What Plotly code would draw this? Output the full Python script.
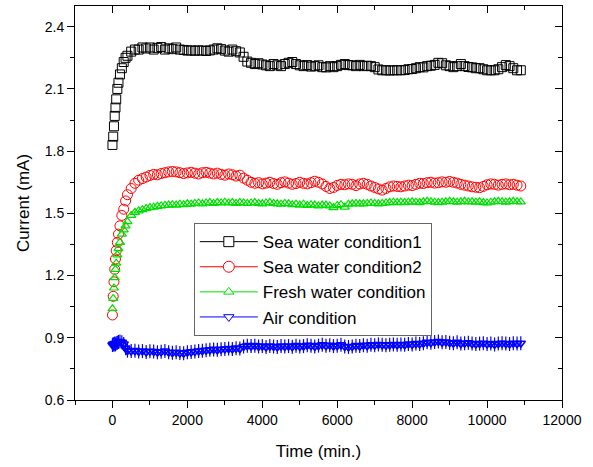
import plotly.graph_objects as go

# Sampling times (min): dense during start-up, then every 100 min
time_start = [0, 20, 40, 60, 80, 100, 130, 160, 200, 250, 300, 350, 400, 500, 600]
time_run = list(range(700, 11000, 100))
time_min = time_start + time_run

# Current (mA) for each test condition
sea_water_1 = [
    1.83, 1.87, 1.92, 1.97, 2.01, 2.05, 2.10, 2.13, 2.17, 2.20, 2.23, 2.25, 2.26, 2.28, 2.29,
    2.290, 2.300, 2.295, 2.300, 2.290, 2.298, 2.302, 2.290, 2.296, 2.292,
    2.300, 2.290, 2.288, 2.285, 2.286, 2.284, 2.286, 2.285, 2.283, 2.286,
    2.290, 2.296, 2.292, 2.285, 2.280, 2.290, 2.282, 2.276, 2.255, 2.232,
    2.226, 2.220, 2.224, 2.218, 2.214, 2.210, 2.220, 2.214, 2.210, 2.220,
    2.226, 2.230, 2.220, 2.214, 2.210, 2.215, 2.208, 2.210, 2.214, 2.205,
    2.204, 2.210, 2.205, 2.210, 2.216, 2.220, 2.215, 2.214, 2.210, 2.216,
    2.210, 2.212, 2.210, 2.205, 2.194, 2.190, 2.190, 2.189, 2.190, 2.190,
    2.190, 2.191, 2.195, 2.196, 2.200, 2.205, 2.204, 2.210, 2.212, 2.216,
    2.226, 2.224, 2.214, 2.210, 2.205, 2.210, 2.220, 2.210, 2.206, 2.204,
    2.200, 2.200, 2.195, 2.190, 2.190, 2.190, 2.195, 2.205, 2.215, 2.210,
    2.200, 2.190, 2.190,
]
sea_water_2 = [
    1.01, 1.10, 1.17, 1.23, 1.28, 1.32, 1.36, 1.40, 1.44, 1.49, 1.52, 1.56, 1.59, 1.62, 1.645,
    1.660, 1.668, 1.675, 1.683, 1.688, 1.686, 1.692, 1.696, 1.700, 1.702,
    1.700, 1.696, 1.692, 1.695, 1.698, 1.694, 1.690, 1.696, 1.698, 1.694,
    1.690, 1.694, 1.688, 1.684, 1.690, 1.686, 1.680, 1.684, 1.670, 1.660,
    1.650, 1.645, 1.648, 1.642, 1.646, 1.650, 1.644, 1.640, 1.648, 1.652,
    1.646, 1.640, 1.644, 1.650, 1.645, 1.642, 1.648, 1.655, 1.650, 1.642,
    1.630, 1.620, 1.625, 1.635, 1.640, 1.638, 1.642, 1.640, 1.634, 1.642,
    1.645, 1.640, 1.632, 1.625, 1.618, 1.612, 1.620, 1.628, 1.632, 1.630,
    1.628, 1.632, 1.636, 1.634, 1.640, 1.645, 1.644, 1.648, 1.650, 1.646,
    1.648, 1.652, 1.650, 1.654, 1.650, 1.646, 1.640, 1.636, 1.632, 1.628,
    1.626, 1.624, 1.630, 1.638, 1.642, 1.640, 1.636, 1.640, 1.642, 1.638,
    1.640, 1.636, 1.632,
]
fresh_water = [
    1.04, 1.09, 1.14, 1.19, 1.23, 1.26, 1.30, 1.33, 1.36, 1.40, 1.42, 1.44, 1.46, 1.49, 1.505,
    1.512, 1.518, 1.524, 1.528, 1.530, 1.534, 1.536, 1.538, 1.540, 1.542,
    1.540, 1.544, 1.542, 1.546, 1.544, 1.548, 1.550, 1.546, 1.550, 1.552,
    1.548, 1.552, 1.550, 1.554, 1.550, 1.552, 1.548, 1.552, 1.550, 1.548,
    1.550, 1.552, 1.548, 1.546, 1.550, 1.552, 1.548, 1.546, 1.544, 1.548,
    1.546, 1.542, 1.544, 1.540, 1.544, 1.538, 1.542, 1.540, 1.536, 1.540,
    1.540, 1.536, 1.528, 1.538, 1.542, 1.530, 1.544, 1.546, 1.548, 1.546,
    1.546, 1.548, 1.550, 1.548, 1.546, 1.548, 1.550, 1.552, 1.554, 1.552,
    1.554, 1.552, 1.554, 1.556, 1.554, 1.552, 1.556, 1.558, 1.556, 1.554,
    1.552, 1.554, 1.556, 1.558, 1.556, 1.554, 1.556, 1.558, 1.555, 1.556,
    1.554, 1.556, 1.552, 1.550, 1.554, 1.556, 1.558, 1.556, 1.554, 1.556,
    1.558, 1.556, 1.555,
]
air = [
    0.865, 0.870, 0.866, 0.872, 0.868, 0.874, 0.876, 0.880, 0.882, 0.878, 0.870, 0.850, 0.838, 0.836, 0.838,
    0.834, 0.836, 0.832, 0.835, 0.834, 0.830, 0.833, 0.836, 0.830, 0.828,
    0.830, 0.827, 0.826, 0.830, 0.832, 0.834, 0.836, 0.838, 0.840, 0.842,
    0.844, 0.842, 0.845, 0.846, 0.848, 0.846, 0.850, 0.848, 0.858, 0.862,
    0.860, 0.862, 0.858, 0.860, 0.856, 0.860, 0.858, 0.856, 0.860, 0.858,
    0.860, 0.857, 0.862, 0.858, 0.860, 0.864, 0.862, 0.858, 0.862, 0.866,
    0.862, 0.864, 0.860, 0.862, 0.866, 0.858, 0.856, 0.858, 0.862, 0.860,
    0.864, 0.862, 0.866, 0.864, 0.868, 0.866, 0.864, 0.866, 0.868, 0.866,
    0.868, 0.866, 0.870, 0.868, 0.872, 0.870, 0.874, 0.878, 0.876, 0.880,
    0.882, 0.878, 0.880, 0.876, 0.874, 0.878, 0.872, 0.874, 0.876, 0.872,
    0.870, 0.872, 0.874, 0.870, 0.872, 0.868, 0.872, 0.874, 0.872, 0.870,
    0.874, 0.872, 0.874,
]

# name, values, colour, data symbol, legend symbol, marker size, stroke width
series = [
    ("Sea water condition1", sea_water_1, "#000000", "square-open", "square", 9, 1),
    ("Sea water condition2", sea_water_2, "#ff0000", "circle-open", "circle", 10, 1),
    ("Fresh water condition", fresh_water, "#00e000", "triangle-up-open", "triangle-up", 8, 1.2),
    ("Air condition", air, "#0000ff", "triangle-down-open", "triangle-down", 8, 1.6),
]

FONT = "Liberation Sans, Arial, sans-serif"
fig = go.Figure()

for name, values, color, symbol, _, size, lw in series:
    fig.add_trace(go.Scatter(
        x=time_min, y=values, mode="markers", showlegend=False,
        marker=dict(symbol=symbol, size=size, color=color,
                    line=dict(color=color, width=lw)),
    ))
    if name == "Air condition":
        # vertical stroke through each down-triangle
        fig.add_trace(go.Scatter(
            x=time_min, y=values, mode="markers", showlegend=False,
            marker=dict(symbol="line-ns-open", size=10, color=color,
                        line=dict(color=color, width=1.2)),
        ))

# legend entries drawn as line + hollow symbol
for name, values, color, _, leg_symbol, size, lw in series:
    fig.add_trace(go.Scatter(
        x=[None], y=[None], mode="lines+markers", name=name,
        line=dict(color=color, width=1),
        marker=dict(symbol=leg_symbol, size=size + 1, color="white",
                    line=dict(color=color, width=1)),
    ))

axis_common = dict(showline=True, linecolor="black", linewidth=1,
                   showgrid=False, zeroline=False, ticklen=7, tickwidth=1,
                   tickcolor="black")

fig.update_layout(
    width=593, height=467,
    margin=dict(l=75, r=31, t=6, b=67),
    paper_bgcolor="white", plot_bgcolor="white",
    font=dict(family=FONT, size=14, color="black"),
    xaxis=dict(range=[-1000, 12000], tick0=0, dtick=2000, tickformat="d",
               ticks="outside",
               minor=dict(dtick=1000, ticks="outside", ticklen=4, tickcolor="black"),
               title=dict(text="Time (min.)", font=dict(size=17), standoff=18),
               tickfont=dict(size=14), **axis_common),
    yaxis=dict(range=[0.6, 2.5], tick0=0.6, dtick=0.3, tickformat=".1f",
               ticks="outside",
               minor=dict(dtick=0.15, ticks="outside", ticklen=4, tickcolor="black"),
               title=dict(text="Current (mA)", font=dict(size=17), standoff=10),
               tickfont=dict(size=14), **axis_common),
    xaxis2=dict(range=[-1000, 12000], tick0=0, dtick=2000, ticks="inside",
                overlaying="x", side="top", anchor="y", showticklabels=False,
                minor=dict(dtick=1000, ticks="inside", ticklen=4, tickcolor="black"),
                **axis_common),
    yaxis2=dict(range=[0.6, 2.5], tick0=0.6, dtick=0.3, ticks="inside",
                overlaying="y", side="right", anchor="x", showticklabels=False,
                minor=dict(dtick=0.15, ticks="inside", ticklen=4, tickcolor="black"),
                **axis_common),
    legend=dict(x=0.244, y=0.449, xanchor="left", yanchor="top",
                bgcolor="white", bordercolor="#666666", borderwidth=1,
                font=dict(size=17), itemwidth=58, tracegroupgap=0),
)

# anchor the mirrored axes with an invisible trace
fig.add_trace(go.Scatter(x=[None], y=[None], xaxis="x2", yaxis="y2",
                         showlegend=False, hoverinfo="skip"))

fig.write_html("out.html")
